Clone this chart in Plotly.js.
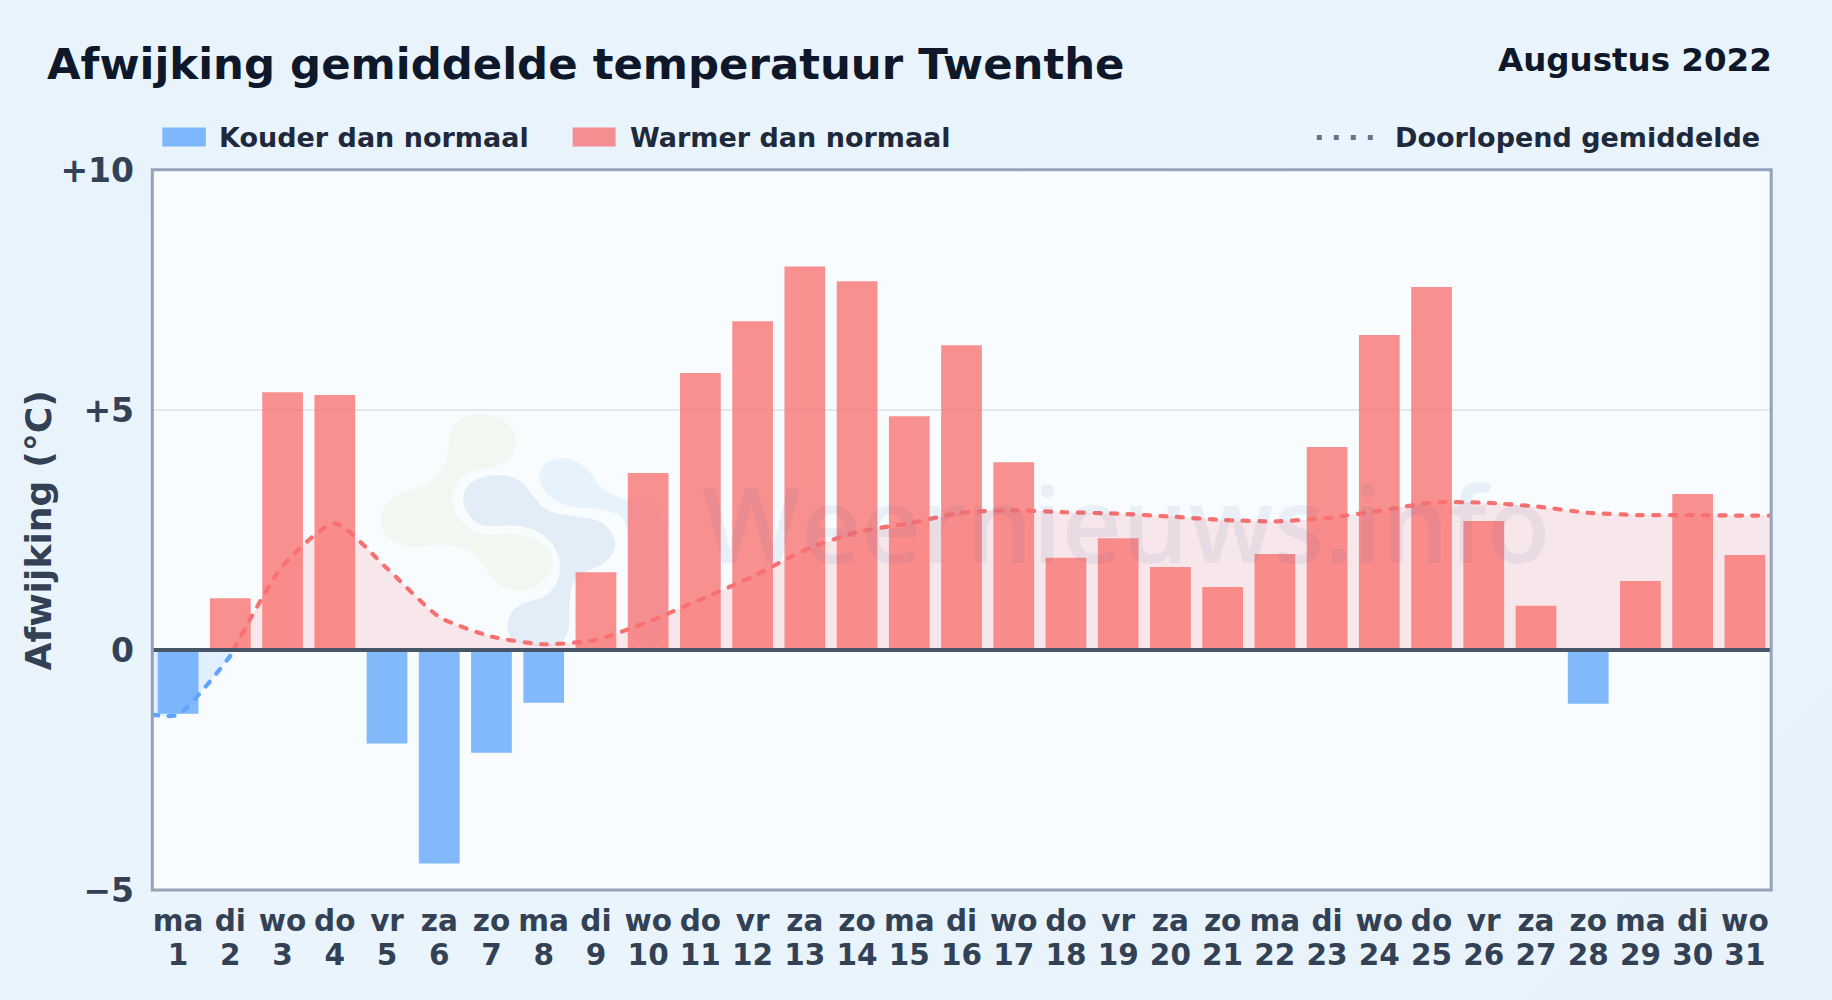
<!DOCTYPE html>
<html>
<head>
<meta charset="utf-8">
<script src="https://cdn.plot.ly/plotly-3.0.1.min.js"></script>
<style>
html,body{margin:0;padding:0;width:1832px;height:1000px;overflow:hidden;background:linear-gradient(135deg,#e8f3fc 0%,#e9f4fd 50%,#e7f2fb 100%);}
#chart{width:1832px;height:1000px;}
.scatterlayer .js-line{stroke-linecap:round;}
</style>
</head>
<body>
<div id="chart"></div>
<script>
const weekdays = ['ma','di','wo','do','vr','za','zo','ma','di','wo','do','vr','za','zo','ma','di','wo','do','vr','za','zo','ma','di','wo','do','vr','za','zo','ma','di','wo'];
const days = [1,2,3,4,5,6,7,8,9,10,11,12,13,14,15,16,17,18,19,20,21,22,23,24,25,26,27,28,29,30,31];
const deviation = [-1.33,1.08,5.37,5.31,-1.95,-4.45,-2.14,-1.10,1.62,3.69,5.77,6.85,7.99,7.68,4.87,6.35,3.91,1.92,2.33,1.73,1.31,2.00,4.23,6.56,7.56,2.69,0.92,-1.12,1.44,3.25,1.98];
const coldAvgX = [0.5,1,2,2.06];
const coldAvgY = [-1.35,-1.35,-0.12,0];
const warmAvgX = [2.06,3,4,5,6,7,8,9,10,11,12,13,14,15,16,17,18,19,20,21,22,23,24,25,26,27,28,29,30,31,31.5];
const warmAvgY = [0,1.75,2.64,1.70,0.69,0.28,0.12,0.21,0.59,1.05,1.53,2.08,2.46,2.64,2.86,2.91,2.87,2.84,2.78,2.71,2.68,2.75,2.90,3.07,3.07,2.99,2.86,2.81,2.81,2.80,2.80];
const yTickVals = [-5,0,5,10];
const yTickText = ['\u22125','0','+5','+10'];

const W = 1832, H = 1000;
const plotL = 151.7, plotR = 1771.4, plotT = 169.5, plotB = 890;
const px = x => (x - plotL) / (plotR - plotL);
const py = y => (plotB - y) / (plotB - plotT);

// Watermark logo outlines, in zoomed page pixels (style only, not data)
function blob(points, color) {
  const p = points.map(([x, y]) => [x / 3 + 370, y / 3 + 400]);
  const n = p.length;
  const mid = i => [(p[i][0] + p[(i + 1) % n][0]) / 2, (p[i][1] + p[(i + 1) % n][1]) / 2];
  const m0 = mid(n - 1);
  let d = `M${px(m0[0])},${py(m0[1])}`;
  for (let i = 0; i < n; i++) {
    const m = mid(i);
    d += `Q${px(p[i][0])},${py(p[i][1])} ${px(m[0])},${py(m[1])}`;
  }
  return {type:'path', xref:'paper', yref:'paper', path:d+'Z', fillcolor:color, line:{width:0}, layer:'below'};
}
const logoGreen = [[235,100],[270,50],[340,35],[420,65],[445,135],[410,190],[330,208],[265,225],[238,295],[270,370],[340,408],[440,395],[530,430],[555,495],[500,565],[420,578],[360,530],[310,450],[230,430],[110,445],[40,405],[25,340],[70,285],[170,255],[230,200]];
const logoGrey = [[275,290],[300,240],[380,220],[450,235],[490,290],[530,335],[610,348],[700,360],[745,430],[710,490],[640,515],[595,560],[600,745],[430,735],[405,670],[440,610],[540,590],[580,500],[540,410],[450,372],[340,382],[290,345]];
const logoBlue = [[500,225],[530,180],[600,170],[660,210],[690,270],[770,300],[895,310],[895,740],[790,740],[770,650],[780,480],[770,350],[700,325],[600,322],[530,290]];

const boldFont = (size, color) => ({family:'DejaVu Sans', size, weight:700, color});
const label = (x, y, xanchor, text, font, extra) => Object.assign({xref:'paper', yref:'paper', x:px(x), y:py(y), xanchor, yanchor:'middle', showarrow:false, text, font}, extra || {});

const layout = {
  width: W, height: H,
  paper_bgcolor: 'rgba(0,0,0,0)',
  plot_bgcolor: '#f8fcff',
  margin: {l: plotL, r: W - plotR, t: plotT, b: H - plotB, pad: 0},
  showlegend: false,
  barmode: 'overlay',
  font: {family: 'DejaVu Sans', color: '#334155'},
  xaxis: {
    type: 'linear', range: [0.5, 31.5],
    tickmode: 'array', tickvals: days, ticktext: weekdays,
    tickangle: 0, ticks: '', ticklabelstandoff: 10,
    tickfont: boldFont(29.5, '#334155'),
    showgrid: false, zeroline: false, showline: false
  },
  xaxis2: {
    type: 'linear', range: [0.5, 31.5], overlaying: 'x', anchor: 'y', side: 'bottom',
    tickmode: 'array', tickvals: days, ticktext: days.map(String),
    tickangle: 0, ticks: '', ticklabelstandoff: 44,
    tickfont: boldFont(29.5, '#334155'),
    showgrid: false, zeroline: false, showline: false
  },
  yaxis: {
    range: [-5, 10],
    tickmode: 'array', tickvals: yTickVals, ticktext: yTickText,
    ticks: '', ticklabelstandoff: 17,
    tickfont: boldFont(33, '#334155'),
    showgrid: true, gridcolor: '#e2e8ee', gridwidth: 2, zeroline: false, showline: false
  },
  shapes: [
    blob(logoGreen, 'rgba(236,246,232,0.62)'),
    blob(logoGrey, 'rgba(226,237,247,1)'),
    blob(logoBlue, 'rgba(230,243,253,1)'),
    {type:'line', xref:'paper', yref:'y', x0:px(152), x1:px(1771.6), y0:0, y1:0, line:{color:'#475569', width:4}, layer:'above'},
    {type:'rect', xref:'paper', yref:'paper', x0:px(152), x1:px(1771.6), y0:py(890), y1:py(169.3), line:{color:'#94a3b8', width:3}, fillcolor:'rgba(0,0,0,0)', layer:'above'},
    {type:'rect', xref:'paper', yref:'paper', x0:px(162), x1:px(205.5), y0:py(127), y1:py(146), fillcolor:'rgba(96,165,250,0.78)', line:{width:0}},
    {type:'rect', xref:'paper', yref:'paper', x0:px(572.5), x1:px(615.5), y0:py(127), y1:py(146), fillcolor:'rgba(248,113,113,0.78)', line:{width:0}},
    {type:'line', xref:'paper', yref:'paper', x0:px(1317), x1:px(1376), y0:py(137), y1:py(137), line:{color:'#64748b', width:5, dash:'5px,12px'}}
  ],
  annotations: [
    label(44.5, 63.5, 'left', 'Afwijking gemiddelde temperatuur Twenthe', boldFont(43.4, '#0f172a')),
    label(1774, 59.5, 'right', 'Augustus 2022', boldFont(32.5, '#0f172a')),
    label(217, 137, 'left', 'Kouder dan normaal', boldFont(27, '#1e293b')),
    label(628, 137, 'left', 'Warmer dan normaal', boldFont(27, '#1e293b')),
    label(1762, 137, 'right', 'Doorlopend gemiddelde', boldFont(27, '#1e293b')),
    label(38, 530, 'center', 'Afwijking (°C)', boldFont(36.2, '#334155'), {textangle:-90}),
    label(1126, 522, 'center', 'Weernieuws.info', {family:'Open Sans', size:104.5, weight:600, color:'rgba(60,90,150,0.08)'})
  ]
};

const lineStyle = color => ({color, width:4.2, dash:'6px,10.5px', shape:'spline', smoothing:0.6});
const traces = [
  {type:'bar', x:days.filter((d,i)=>deviation[i]<0), y:deviation.filter(v=>v<0), width:0.78, name:'Kouder dan normaal', marker:{color:'rgba(96,165,250,0.78)', line:{width:0}}},
  {type:'bar', x:days.filter((d,i)=>deviation[i]>=0), y:deviation.filter(v=>v>=0), width:0.78, name:'Warmer dan normaal', marker:{color:'rgba(248,113,113,0.78)', line:{width:0}}},
  {type:'scatter', xaxis:'x2', mode:'lines', x:coldAvgX, y:coldAvgY, name:'Doorlopend gemiddelde', fill:'tozeroy', fillcolor:'rgba(96,165,250,0.15)', line:lineStyle('#60a5fa')},
  {type:'scatter', xaxis:'x2', mode:'lines', x:warmAvgX, y:warmAvgY, name:'Doorlopend gemiddelde', fill:'tozeroy', fillcolor:'rgba(248,113,113,0.15)', line:lineStyle('#f87171')}
];
Plotly.newPlot('chart', traces, layout, {displayModeBar:false, staticPlot:true});
</script>
</body>
</html>
